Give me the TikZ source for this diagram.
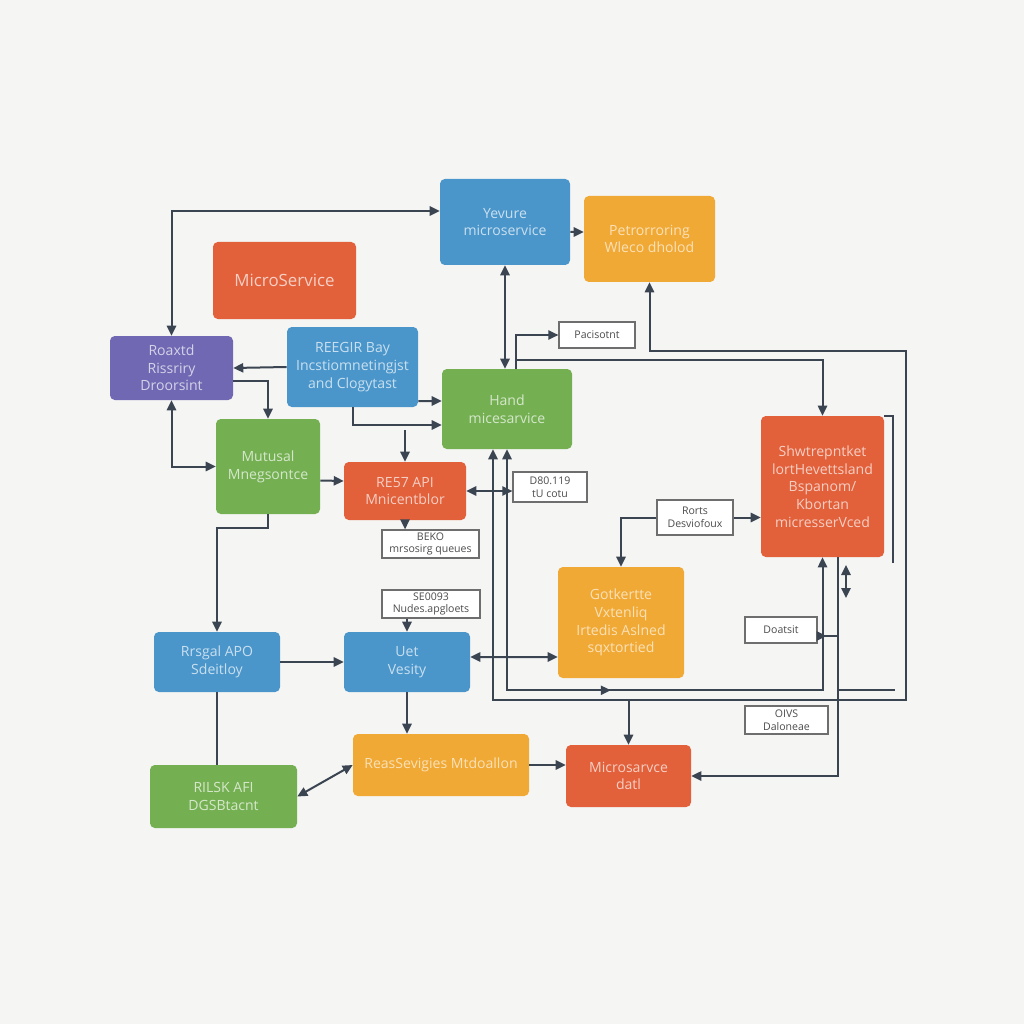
\documentclass[tikz,border=0pt]{standalone}
\usepackage{fontspec}
\setsansfont{Open Sans}
\usetikzlibrary{arrows.meta, positioning, decorations.markings}
\definecolor{bgc}{HTML}{F5F5F4}
\definecolor{cline}{HTML}{3B4451}
\definecolor{ctag}{HTML}{6E6E6E}
\definecolor{cblue}{HTML}{4A96CB}
\definecolor{corg}{HTML}{E2603A}
\definecolor{cylw}{HTML}{F1A935}
\definecolor{cgrn}{HTML}{74B052}
\definecolor{cprp}{HTML}{7068B2}
\tikzset{%
	svc/.style={rectangle, rounded corners=1.2mm, inner sep=0.8mm, align=center,%
		font=\sffamily\fontsize{10}{12.6}\selectfont},
	sz/.style 2 args={minimum width=#1*0.25mm, minimum height=#2*0.25mm},
	blu/.style={svc, fill=cblue, text=cblue!30!white},
	org/.style={svc, fill=corg, text=corg!30!white},
	ylw/.style={svc, fill=cylw, text=cylw!35!white},
	grn/.style={svc, fill=cgrn, text=cgrn!30!white},
	prp/.style={svc, fill=cprp, text=cprp!30!white},
	tag/.style={draw=ctag, fill=white, line width=0.3mm, inner sep=0.3mm, align=center,%
		text=black!70, font=\sffamily\fontsize{7.5}{9}\selectfont},
	conn/.style={draw=cline, line width=0.5mm},
	link/.style={conn, -{Triangle[length=2.5mm,width=2.3mm]}},
	dlink/.style={conn, {Triangle[length=2.5mm,width=2.3mm]}-{Triangle[length=2.5mm,width=2.3mm]}},
	midarr/.style={postaction={decorate}, decoration={markings,%
		mark=at position #1 with {\arrow{Triangle[length=2.5mm,width=2.3mm]}}}}
}
\begin{document}
\begin{tikzpicture}[x=0.25mm, y=-0.25mm]
	\fill[bgc] (0,0) rectangle (1024,1024);
	\useasboundingbox (0,0) rectangle (1024,1024);
	% service boxes
	\node[org, sz={143}{77}, font=\sffamily\fontsize{12}{14}\selectfont] (ms) at (284.5,280.5) {MicroService};
	\node[blu, sz={130}{86}] (yv) at (505,222) {Yevure\\microservice};
	\node[ylw, sz={131}{86}] (pf) at (649.5,239) {Petrorroring\\Wleco dholod};
	\node[prp, sz={123}{64}] (rb) at (171.5,368) {Roaxtd\\Rissriry\\Droorsint};
	\node[blu, sz={131}{80}] (rg) at (352.5,367) {REEGIR Bay\\Incstiomnetingjst\\and Clogytast};
	\node[grn, sz={130}{80}] (hd) at (507,409) {Hand\\micesarvice};
	\node[grn, sz={104}{95}] (mu) at (268,466.5) {Mutusal\\Mnegsontce};
	\node[org, sz={122}{58}] (ra) at (405,491) {RE57 API\\Mnicentblor};
	\node[org, sz={123}{141}] (sh) at (822.5,486.5) {Shwtrepntket\\lortHevettsland\\Bspanom/\\Kbortan\\micresserVced};
	\node[ylw, sz={126}{111}] (gk) at (621,622.5) {Gotkertte\\Vxtenliq\\Irtedis Aslned\\sqxtortied};
	\node[blu, sz={126}{60}] (rs) at (217,662) {Rrsgal APO\\Sdeitloy};
	\node[blu, sz={126}{60}] (uv) at (407,662) {Uet\\Vesity};
	\node[grn, sz={147}{63}] (rk) at (223.5,796.5) {RILSK AFI\\DGSBtacnt};
	\node[ylw, sz={176}{62}] (rm) at (441,765) {ReasSevigies Mtdoallon};
	\node[org, sz={125}{62}] (md) at (628.5,776) {Microsarvce\\datl};
	% small labels
	\node[tag, sz={76}{26}] (tpa) at (597,335) {Pacisotnt};
	\node[tag, sz={74}{30}] (tda) at (550,487) {D80.119\\tU cotu};
	\node[tag, sz={97}{28}] (tbe) at (430.5,544) {BEKO\\mrsosirg queues};
	\node[tag, sz={98}{28}] (tse) at (431,604) {SE0093\\Nudes.apgloets};
	\node[tag, sz={76}{35}] (tro) at (695,517.5) {Rorts\\Desviofoux};
	\node[tag, sz={72}{26}] (tdo) at (781,630) {Doatsit};
	\node[tag, sz={83}{28}] (tov) at (786.5,720) {OIVS\\Daloneae};
	% helper points
	\coordinate (j1)  at (405,430);
	\coordinate (lpA) at (906,700);
	\coordinate (lpB) at (906,351);
	\coordinate (hk)  at (893,563);
	\coordinate (da1) at (846,565);
	\coordinate (da2) at (846,598);
	\coordinate (r1)  at (838,690);
	\coordinate (r2)  at (895,690);
	% left part
	\draw[dlink] (rb.north) |- ([yshift=2.75mm]yv.west);
	\draw[link] (rg.west) -- (rb.east);
	\draw[link] ([yshift=-3.25mm]rb.east) -| (mu.north);
	\draw[dlink] (rb.south) |- (mu.west);
	\draw[link] ([yshift=-8.5mm]rg.east) -- ([yshift=2mm]hd.west);
	\draw[link] (rg.south) |- ([yshift=-4mm]hd.west);
	\draw[link] (j1) -- (ra.north);
	\draw[link] ([yshift=-3.5mm]mu.east) -- ([yshift=2.5mm]ra.west);
	\draw[link] (mu.south) -- ++(0,14) -| (rs.north);
	\draw[link] (ra.south) -- (ra.south |- tbe.north);
	\draw[link] (uv.north |- tse.south) -- (uv.north);
	\draw[link] (rs.east) -- (uv.west);
	\draw[dlink] ([yshift=1.25mm]uv.east) -- ([yshift=-8.625mm]gk.west);
	\draw[link] (uv.south) -- (uv.south |- rm.north);
	\draw[conn] (rs.south) -- (rs.south |- rk.north);
	\draw[dlink] (rk.east) -- (rm.west);
	\draw[link] (rm.east) -- (rm.east -| md.west);
	% top part
	\draw[link] ([yshift=-2.5mm]yv.east) -- ([yshift=1.75mm]pf.west);
	\draw[dlink] (yv.south) -- (yv.south |- hd.north);
	\draw[link] ([xshift=2.25mm]hd.north) |- (tpa.west);
	\draw[link] ([xshift=2.25mm,yshift=2.25mm]hd.north) -| (sh.north);
	% loops on the right
	\draw[dlink] ([xshift=-3.5mm]hd.south) |- (lpA) -- (lpB) -| (pf.south);
	\draw[link] (md.north |- lpA) -- (md.north);
	\draw[dlink, midarr=0.5] (hd.south) -- ++(0,241) -| (sh.south);
	\draw[dlink] (ra.east) -- (ra.east -| tda.west);
	\draw[link] (tro.west) -| (gk.north);
	\draw[link] (tro.east) -- (tro.east -| sh.west);
	\draw[conn] (sh.north east) -| (hk);
	\draw[dlink] (da1) -- (da2);
	\draw[link] ([xshift=3.875mm]sh.south) |- (md.east);
	\draw[conn, midarr=0.45] ([yshift=-1.5mm]tdo.east) -- ++(20,0);
	\draw[conn] (r1) -- (r2);
\end{tikzpicture}
\end{document}
